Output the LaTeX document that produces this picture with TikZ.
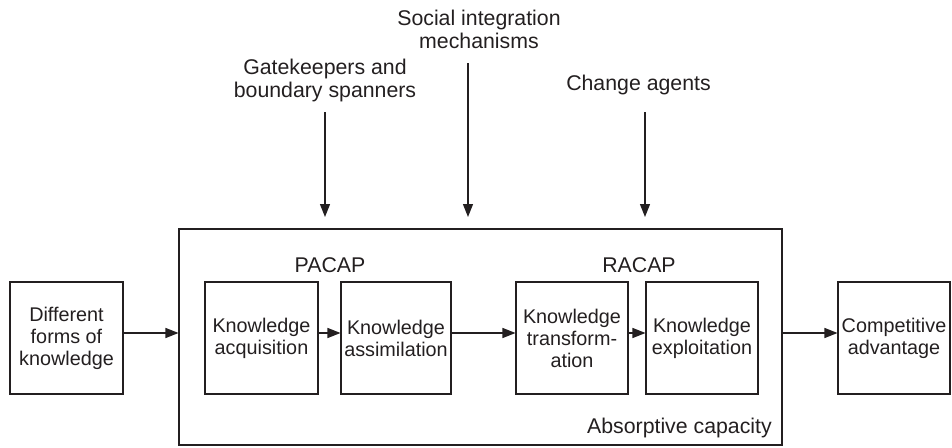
\documentclass[tikz,border=0pt]{standalone}
\usepackage{fontspec}
\setmainfont{Liberation Sans}
\usetikzlibrary{arrows.meta}
\definecolor{ink}{HTML}{231F20}
\begin{document}
\begin{tikzpicture}[x=1pt,y=-1pt,
  every node/.style={font=\fontsize{19.8}{22}\selectfont, text=ink},
  blk/.style={draw=ink, line width=1.1pt, minimum width=112pt, minimum height=112pt, inner sep=0pt, align=center},
  lbl/.style={align=center, inner sep=0pt, font=\fontsize{21.3}{23}\selectfont},
  arr/.style={draw=ink, line width=1.3pt, -{Triangle[length=13pt,width=10pt]}}]
\useasboundingbox (0,0) rectangle (952,447);
\node[draw=ink, line width=1.1pt, minimum width=603pt, minimum height=216pt, inner sep=0pt] (big) at (480.5,337) {};
\node[blk, minimum width=113pt] (diff) at (66.5,338) {Different\\forms of\\knowledge};
\node[blk, minimum width=113pt] (acq) at (261.5,338) {Knowledge\\acquisition};
\node[blk, minimum width=110pt] (asm) at (396,338) {Knowledge\\assimilation};
\node[blk] (trn) at (572,338) {Knowledge\\transform-\\ation};
\node[blk] (expl) at (702,338) {Knowledge\\exploitation};
\node[blk] (comp) at (894,338) {Competitive\\advantage};
\node[lbl] (pacap) at (330,265) {PACAP};
\node[lbl] (racap) at (639,265) {RACAP};
\node[lbl, anchor=east] (abs) at (772,428) {Absorptive capacity};
\node[lbl] (gk) at (325,80) {Gatekeepers and\\boundary spanners};
\node[lbl] (soc) at (479,29) {Social integration\\mechanisms};
\node[lbl] (chg) at (638.5,85) {Change agents};
\coordinate (gkS) at (325,112);
\coordinate (gkE) at (325,217);
\coordinate (socS) at (468,63);
\coordinate (socE) at (468,217);
\coordinate (chgS) at (645,112);
\coordinate (chgE) at (645,217);
\draw[arr] (gkS) -- (gkE);
\draw[arr] (socS) -- (socE);
\draw[arr] (chgS) -- (chgE);
\draw[arr] ([yshift=5pt]diff.east) -- ([yshift=5pt]diff.east -| big.west);
\draw[arr] ([yshift=5pt]acq.east) -- ([yshift=5pt]asm.west);
\draw[arr] ([yshift=5pt]asm.east) -- ([yshift=5pt]trn.west);
\draw[arr] ([yshift=5pt]trn.east) -- ([yshift=5pt]expl.west);
\draw[arr] ([yshift=5pt]comp.west -| big.east) -- ([yshift=5pt]comp.west);
\end{tikzpicture}
\end{document}
